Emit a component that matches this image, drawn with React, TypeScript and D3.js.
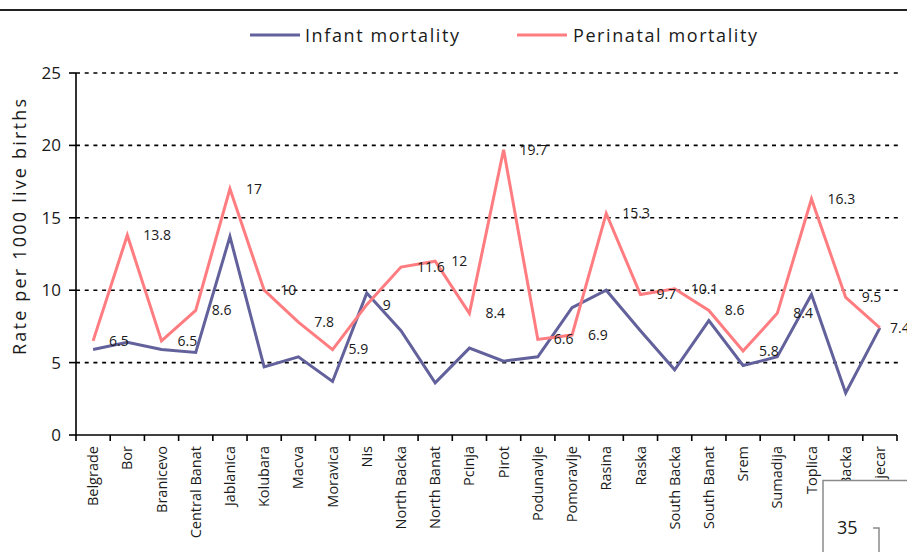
import React from "react";
import * as d3 from "d3";

const CATEGORIES = [
  "Belgrade", "Bor", "Branicevo", "Central Banat", "Jablanica", "Kolubara",
  "Macva", "Moravica", "Nis", "North Backa", "North Banat", "Pcinja",
  "Pirot", "Podunavlje", "Pomoravlje", "Rasina", "Raska", "South Backa",
  "South Banat", "Srem", "Sumadija", "Toplica", "West Backa", "Zajecar",
];

const INFANT = [
  5.9, 6.4, 5.9, 5.7, 13.7, 4.7, 5.4, 3.7, 9.8, 7.2, 3.6, 6.0,
  5.1, 5.4, 8.8, 10.0, 7.2, 4.5, 7.9, 4.8, 5.4, 9.7, 2.9, 7.4,
];

const PERINATAL = [
  6.5, 13.8, 6.5, 8.6, 17, 10, 7.8, 5.9, 9, 11.6, 12, 8.4,
  19.7, 6.6, 6.9, 15.3, 9.7, 10.1, 8.6, 5.8, 8.4, 16.3, 9.5, 7.4,
];

const Y_TICKS = [0, 5, 10, 15, 20, 25];

const W = 907;
const H = 552;
const FONT = "'Open Sans', sans-serif";
const INFANT_COLOR = "#62619B";
const PERI_COLOR = "#FF7C80";
const INK = "#1a1a1a";

export default function App() {
  const x = d3.scaleBand<string>().domain(CATEGORIES).range([76, 897]).padding(0);
  const y = d3.scaleLinear().domain([0, 25]).range([435, 73]);
  const cx = (i: number) => (x(CATEGORIES[i]) as number) + x.bandwidth() / 2;

  const line = d3.line<number>().x((_, i) => cx(i)).y(d => y(d));
  const boundaries = CATEGORIES.map(c => x(c) as number).concat([897]);

  return (
    <svg width={W} height={H} style={{ position: "absolute", left: 0, top: 0, background: "#fff" }}
      fontFamily={FONT}>
      {/* top rule */}
      <line x1={0} x2={W} y1={10} y2={10} stroke="#222" strokeWidth={2} />

      {/* legend */}
      <line x1={250} x2={300} y1={35} y2={35} stroke={INFANT_COLOR} strokeWidth={3} />
      <text x={305} y={42} fontSize={18} fill={INK} textLength={154} lengthAdjust="spacing">Infant mortality</text>
      <line x1={517} x2={567} y1={35} y2={35} stroke={PERI_COLOR} strokeWidth={3} />
      <text x={573} y={42} fontSize={18} fill={INK} textLength={184} lengthAdjust="spacing">Perinatal mortality</text>

      {/* grid */}
      {Y_TICKS.filter(t => t > 0).map(t => (
        <line key={t} x1={76} x2={898} y1={y(t)} y2={y(t)} stroke="#000" strokeWidth={1.6} strokeDasharray="4,4.7" />
      ))}

      {/* y axis */}
      <line x1={76} x2={76} y1={y(25)} y2={y(0)} stroke="#000" strokeWidth={1.6} />
      {Y_TICKS.map(t => (
        <g key={t}>
          <line x1={69} x2={76} y1={y(t)} y2={y(t)} stroke="#000" strokeWidth={1.6} />
          <text x={61} y={y(t)} dy="0.35em" textAnchor="end" fontSize={17} fill={INK}>{t}</text>
        </g>
      ))}
      <text transform={`translate(20,227) rotate(-90)`} textAnchor="middle" dy="0.35em" fontSize={18} fill={INK}
        textLength={256} lengthAdjust="spacing">
        Rate per 1000 live births
      </text>

      {/* x axis */}
      <line x1={76} x2={897} y1={y(0)} y2={y(0)} stroke="#000" strokeWidth={1.6} />
      {boundaries.map((b, i) => (
        <line key={i} x1={b} x2={b} y1={y(0)} y2={y(0) + 6} stroke="#000" strokeWidth={1.6} />
      ))}
      {CATEGORIES.map((c, i) => (
        <text key={c} transform={`translate(${cx(i)},446) rotate(-90)`} textAnchor="end" dy="0.35em"
          fontSize={14.5} fill={INK}>{c}</text>
      ))}

      {/* series */}
      <path d={line(INFANT) as string} fill="none" stroke={INFANT_COLOR} strokeWidth={3} strokeLinejoin="miter" />
      <path d={line(PERINATAL) as string} fill="none" stroke={PERI_COLOR} strokeWidth={3} strokeLinejoin="miter" />

      {/* data labels */}
      {PERINATAL.map((v, i) => (
        <text key={i} x={Math.min(cx(i) + 16, 890)} y={y(v)} dy="0.35em" fontSize={14} fill={INK}>{v}</text>
      ))}

      {/* page box overlay */}
      <rect x={823} y={480.5} width={100} height={100} fill="#fff" stroke="#8a8a8a" strokeWidth={1.5} />
      <text x={837} y={534} fontSize={18} fill={INK}>35</text>
      <path d="M873,528 H879 V552" fill="none" stroke="#8a8a8a" strokeWidth={1.5} />
    </svg>
  );
}
